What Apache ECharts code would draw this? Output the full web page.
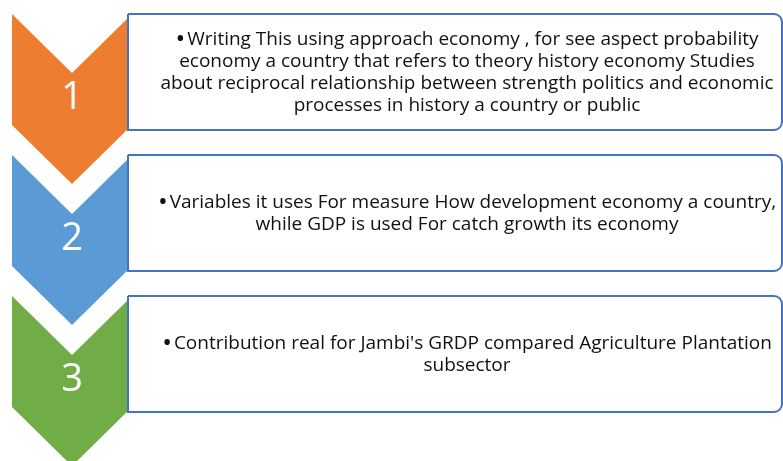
<!DOCTYPE html>
<html>
<head>
<meta charset="utf-8">
<script src="https://cdn.jsdelivr.net/npm/echarts@6/dist/echarts.min.js"></script>
<style>
  html, body { margin: 0; padding: 0; background: #fff; }
  #main { width: 783px; height: 461px; }
</style>
</head>
<body>
<div id="main"></div>
<script>
// steps of the chevron list
var stepLabels = ['1', '2', '3'];
var stepColors = ['#ED7D31', '#5B9BD5', '#70AD47'];
var stepTexts = [
  'Writing This using approach economy , for see aspect probability\neconomy a country that refers to theory history economy Studies\nabout reciprocal relationship between strength politics and economic\nprocesses in history a country or public',
  'Variables it uses For measure How development economy a country,\nwhile GDP is used For catch growth its economy',
  'Contribution real for Jambi\'s GRDP compared Agriculture Plantation\nsubsector'
];

var chart = echarts.init(document.getElementById('main'));

function renderStep(params, api) {
  var i = api.value(1);
  var band = api.size([0, 1])[1];
  var rowTop = api.coord([0, i])[1] - band / 2;
  var x0 = api.coord([12, i])[0];
  var x1 = api.coord([132, i])[0];
  var xm = (x0 + x1) / 2;
  var depth = 59, side = 111;
  var boxL = api.coord([128, i])[0];
  var boxR = api.coord([782, i])[0];
  var boxH = 116;
  return {
    type: 'group',
    children: [
      {
        type: 'polygon',
        shape: {
          points: [
            [x0, rowTop], [xm, rowTop + depth], [x1, rowTop],
            [x1, rowTop + side], [xm, rowTop + side + depth], [x0, rowTop + side]
          ]
        },
        style: { fill: stepColors[i] }
      },
      {
        type: 'text',
        x: xm,
        y: rowTop + 84,
        style: {
          text: stepLabels[i],
          fill: '#fff',
          font: '38px "Open Sans", sans-serif',
          align: 'center',
          verticalAlign: 'middle'
        }
      },
      {
        type: 'rect',
        shape: { x: boxL, y: rowTop, width: boxR - boxL, height: boxH, r: [0, 8, 8, 0] },
        style: { fill: '#fff', stroke: '#4472C4', lineWidth: 2 }
      },
      {
        type: 'text',
        x: (boxL + boxR) / 2 + 12,
        y: rowTop + boxH / 2 + 1,
        style: {
          text: '{b|\u2022}' + stepTexts[i],
          fill: '#111',
          fontFamily: 'Open Sans',
          fontSize: 19,
          lineHeight: 22,
          align: 'center',
          verticalAlign: 'middle',
          rich: {
            b: { fontSize: 26, lineHeight: 22, fill: '#111', fontFamily: 'Open Sans', padding: [0, 2, 0, 0] }
          }
        }
      }
    ]
  };
}

chart.setOption({
  animation: false,
  grid: { left: 0, right: 0, top: 14, height: 423 },
  xAxis: { type: 'value', min: 0, max: 783, show: false },
  yAxis: { type: 'category', data: stepLabels, inverse: true, show: false },
  series: [{
    type: 'custom',
    renderItem: renderStep,
    clip: false,
    data: stepLabels.map(function (s, i) { return [0, i]; })
  }]
});
</script>
</body>
</html>
